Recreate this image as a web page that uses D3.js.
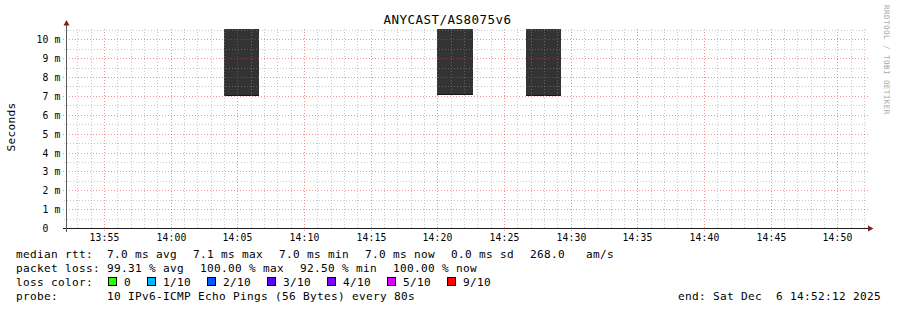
<!DOCTYPE html>
<html><head><meta charset="utf-8">
<script src="https://cdn.jsdelivr.net/npm/d3@7"></script>
<style>
body{margin:0;background:#fff}
svg{display:block}
text{font-family:"DejaVu Sans Mono",monospace;white-space:pre}
</style></head><body>
<svg id="c" width="897" height="310"></svg>
<script>
// ---------- data ----------
const title = "ANYCAST/AS8075v6";
const yLabel = "Seconds";
const watermark = "RRDTOOL / TOBI OETIKER";
const timeStart = "2025-12-06 13:52:12";
const timeEnd = "2025-12-06 14:52:12";
const stepSeconds = 80;
const sampleEnds = ["2025-12-06 14:05:18","2025-12-06 14:06:38","2025-12-06 14:21:17","2025-12-06 14:22:37","2025-12-06 14:27:57","2025-12-06 14:29:17"];
const medianMs = [7.0, 7.0, 7.06, 7.06, 7.0, 7.0];
const smokeTopMs = [10.6, 10.6, 10.6, 10.6, 10.6, 10.6];
const yMaxMs = 10.6;
const xTickLabels = ["13:55","14:00","14:05","14:10","14:15","14:20","14:25","14:30","14:35","14:40","14:45","14:50"];
const yTickValues = [0,1,2,3,4,5,6,7,8,9,10];
const yTickLabels = ["0","1 m","2 m","3 m","4 m","5 m","6 m","7 m","8 m","9 m","10 m"];
const rttLabel = "median rtt:";
const rttTexts = ["7.0 ms avg","7.1 ms max","7.0 ms min","7.0 ms now","0.0 ms sd","268.0   am/s"];
const lossLabel = "packet loss:";
const lossTexts = ["99.31 % avg","100.00 % max","92.50 % min","100.00 % now"];
const lossColorLabel = "loss color:";
const lossLabels = ["0","1/10","2/10","3/10","4/10","5/10","9/10"];
const lossColors = ["#26ff00","#00b8ff","#0059ff","#5e00ff","#7e00ff","#dd00ff","#ff0000"];
const probeLabel = "probe:";
const probeText = "10 IPv6-ICMP Echo Pings (56 Bytes) every 80s";
const endText = "end: Sat Dec  6 14:52:12 2025";

// ---------- layout ----------
const svg = d3.select("#c");
const parse = d3.timeParse("%Y-%m-%d %H:%M:%S");
const t0 = parse(timeStart), t1 = parse(timeEnd);
const X0 = 67, X1 = 867, Y0 = 228.5, Y1 = 28.5;
const x = d3.scaleTime().domain([t0, t1]).range([X0, X1]);
const y = d3.scaleLinear().domain([0, yMaxMs]).range([Y0, Y1]);
const cx = v => Math.floor(v) + 0.5;

const gridCol = "rgba(145,145,145,0.5)";
const mgridCol = "rgba(230,60,60,0.55)";
const arrowCol = "rgb(128,31,31)";
const axisCol = "rgb(31,31,31)";

svg.append("rect").attr("width", 897).attr("height", 310).attr("fill", "#fff");

// smoke + median
const samples = sampleEnds.map((s, i) => ({ end: parse(s), med: medianMs[i], top: smokeTopMs[i] }));
const gData = svg.append("g").attr("shape-rendering", "crispEdges");
gData.selectAll("rect.smoke").data(samples).join("rect").attr("class", "smoke")
  .attr("x", d => Math.round(x(new Date(d.end - stepSeconds * 1000))))
  .attr("width", d => Math.round(x(d.end)) - Math.round(x(new Date(d.end - stepSeconds * 1000))))
  .attr("y", d => Math.round(y(d.top)))
  .attr("height", d => Math.round(y(d.med)) - Math.round(y(d.top)))
  .attr("fill", "#333333");
gData.selectAll("line.med").data(samples).join("line").attr("class", "med")
  .attr("x1", d => Math.round(x(new Date(d.end - stepSeconds * 1000))))
  .attr("x2", d => Math.round(x(d.end)))
  .attr("y1", d => cx(y(d.med) - 0.5)).attr("y2", d => cx(y(d.med) - 0.5))
  .attr("stroke", "#151515").attr("stroke-width", 1);

// grid
const gGrid = svg.append("g").attr("shape-rendering", "crispEdges");
const minorT = d3.timeMinute.every(1).range(t0, t1).filter(t => t.getMinutes() % 5 !== 0);
const majorT = d3.timeMinute.every(5).range(t0, t1);
gGrid.selectAll("line.vmin").data(minorT).join("line")
  .attr("x1", d => cx(x(d))).attr("x2", d => cx(x(d)))
  .attr("y1", Y1).attr("y2", Y0 + 1)
  .attr("stroke", gridCol).attr("stroke-dasharray", "1,2");
const yMinor = d3.range(0.5, yMaxMs, 1);
gGrid.selectAll("line.hmin").data(yMinor).join("line")
  .attr("x1", X0 - 3).attr("x2", X1 + 1)
  .attr("y1", d => cx(y(d))).attr("y2", d => cx(y(d)))
  .attr("stroke", gridCol).attr("stroke-dasharray", "1,2");
gGrid.selectAll("line.vmaj").data(majorT).join("line")
  .attr("x1", d => cx(x(d))).attr("x2", d => cx(x(d)))
  .attr("y1", Y1).attr("y2", Y0 + 3)
  .attr("stroke", mgridCol).attr("stroke-dasharray", "1,2");
gGrid.selectAll("line.hmaj").data(yTickValues.filter(v => v > 0)).join("line")
  .attr("x1", X0 - 4).attr("x2", X1 + 1)
  .attr("y1", d => cx(y(d))).attr("y2", d => cx(y(d)))
  .attr("stroke", mgridCol).attr("stroke-dasharray", "1,2");

// axes
const gAx = svg.append("g").attr("shape-rendering", "crispEdges");
gAx.append("line").attr("x1", X0 - 4).attr("x2", X1 + 2).attr("y1", cx(Y0)).attr("y2", cx(Y0)).attr("stroke", axisCol);
gAx.append("line").attr("x1", cx(X0 - 0.5)).attr("x2", cx(X0 - 0.5)).attr("y1", Y0 + 3).attr("y2", Y1 - 4).attr("stroke", "rgb(90,90,90)");
svg.append("path").attr("d", `M${X1 + 1},${cx(Y0) - 3}L${X1 + 6.5},${cx(Y0)}L${X1 + 1},${cx(Y0) + 3}Z`).attr("fill", arrowCol);
svg.append("path").attr("d", `M${cx(X0 - 0.5) - 3},${Y1 - 3}L${cx(X0 - 0.5)},${Y1 - 8.5}L${cx(X0 - 0.5) + 3},${Y1 - 3}Z`).attr("fill", arrowCol);

// tick labels
const axisFont = { size: "9.72px", ls: "0.15px" };
svg.append("g").selectAll("text").data(majorT).join("text")
  .attr("x", d => cx(x(d))).attr("y", 241)
  .attr("text-anchor", "middle").attr("font-size", axisFont.size).attr("letter-spacing", axisFont.ls)
  .attr("fill", "#000").text((d, i) => xTickLabels[i]);
svg.append("g").selectAll("text").data(yTickValues).join("text")
  .attr("x", 60.5).attr("y", d => cx(y(d)) + 3.5)
  .attr("text-anchor", "end").attr("font-size", axisFont.size).attr("letter-spacing", axisFont.ls)
  .attr("fill", "#000").text((d, i) => yTickLabels[i].includes(" ") ? yTickLabels[i] : yTickLabels[i] + "  ");

// title
svg.append("text").attr("x", 447.5).attr("y", 24).attr("text-anchor", "middle")
  .attr("font-size", "12.5px").attr("letter-spacing", "0.47px").attr("fill", "#000").text(title);

// y label
svg.append("text").attr("transform", "translate(14.5,127) rotate(-90)").attr("text-anchor", "middle")
  .attr("font-size", "11.1px").attr("letter-spacing", "0.32px").attr("fill", "#000").text(yLabel);

// watermark
svg.append("text").attr("transform", "translate(884.3,5) rotate(90)")
  .attr("font-size", "7.6px").attr("letter-spacing", "0.42px").attr("fill", "#a8a8a8").text(watermark);

// legend
const LF = "11.1px", LLS = "0.32px", colX = 107, gap = 16;
const rowY = [258, 272, 286, 299.8];
function lt(xp, yp, s) {
  return svg.append("text").attr("x", xp).attr("y", yp).attr("font-size", LF).attr("letter-spacing", LLS).attr("fill", "#000").text(s);
}
function row(yp, label, items) {
  lt(16, yp, label);
  let xp = colX;
  items.forEach(s => { const t = lt(xp, yp, s); xp += t.node().getComputedTextLength() + gap; });
}
row(rowY[0], rttLabel, rttTexts);
row(rowY[1], lossLabel, lossTexts);
lt(16, rowY[2], lossColorLabel);
{
  let xp = colX;
  lossLabels.forEach((s, i) => {
    svg.append("rect").attr("x", xp + 1.5).attr("y", rowY[2] - 8.5).attr("width", 8).attr("height", 8)
      .attr("fill", lossColors[i]).attr("stroke", "#000").attr("stroke-width", 1).attr("shape-rendering", "crispEdges");
    const t = lt(xp + 17, rowY[2], s);
    xp += 17 + t.node().getComputedTextLength() + 15;
  });
}
row(rowY[3], probeLabel, [probeText]);
svg.append("text").attr("x", 881).attr("y", rowY[3]).attr("text-anchor", "end")
  .attr("font-size", LF).attr("letter-spacing", LLS).attr("fill", "#000").text(endText);
</script>
</body></html>
